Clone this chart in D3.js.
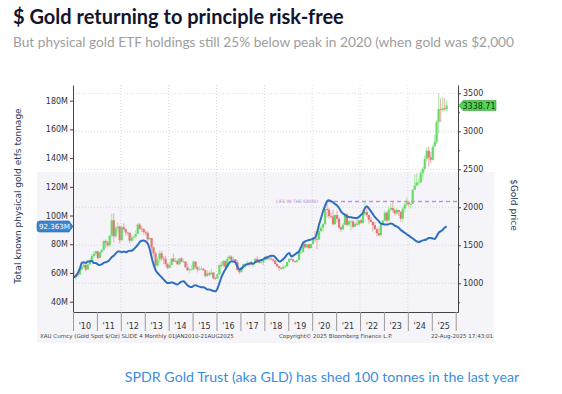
<!DOCTYPE html>
<html>
<head>
<meta charset="utf-8">
<script src="https://cdn.jsdelivr.net/npm/d3@7"></script>
<style>
  body { margin: 0; background: #fff; }
  svg text { font-family: "DejaVu Sans", sans-serif; }
  .head { font-family: Lato, "Open Sans", sans-serif !important; }
</style>
</head>
<body>
<svg id="chart" width="562" height="394"></svg>
<script>
// monthly gold candles, Jan 2010 .. Aug 2025 (open = previous close)
var firstOpen = 1097
var goldClose = [
  1081,1118,1113,1180,1213,1244,1181,1248,1307,1357,1386,1421,
  1333,1410,1439,1556,1536,1500,1628,1829,1620,1723,1746,1566,
  1738,1711,1669,1664,1561,1604,1614,1648,1773,1719,1711,1675,
  1664,1578,1595,1472,1393,1234,1312,1395,1327,1323,1253,1202,
  1240,1326,1284,1296,1250,1327,1282,1287,1210,1171,1183,1184,
  1283,1213,1183,1184,1190,1172,1095,1132,1115,1142,1065,1061,
  1118,1238,1233,1293,1215,1322,1351,1309,1316,1277,1173,1146,
  1211,1249,1249,1268,1268,1242,1269,1322,1280,1271,1275,1303,
  1345,1318,1325,1315,1299,1253,1224,1201,1192,1215,1222,1282,
  1321,1313,1292,1284,1305,1409,1413,1520,1472,1513,1464,1517,
  1589,1585,1577,1687,1730,1781,1975,1968,1886,1879,1776,1898,
  1847,1734,1708,1769,1907,1770,1814,1814,1743,1783,1774,1829,
  1797,1909,1937,1897,1837,1807,1766,1711,1661,1633,1769,1824,
  1928,1827,1969,1990,1963,1919,1965,1940,1849,1983,2036,2063,
  2040,2044,2230,2286,2327,2327,2448,2503,2635,2744,2657,2625,
  2798,2858,3124,3289,3280,3303,3290,3339
]
var goldHigh = [
  1162,1127,1127,1185,1249,1265,1212,1249,1308,1388,1424,1431,
  1424,1411,1448,1575,1577,1560,1632,1912,1921,1755,1804,1764,
  1764,1791,1724,1677,1667,1640,1628,1693,1790,1795,1755,1727,
  1694,1684,1617,1598,1487,1424,1348,1434,1424,1361,1362,1268,
  1280,1332,1392,1331,1315,1333,1345,1324,1287,1255,1206,1239,
  1307,1293,1224,1224,1232,1205,1175,1170,1157,1191,1142,1088,
  1128,1263,1283,1304,1303,1362,1375,1367,1352,1317,1305,1181,
  1220,1264,1261,1295,1275,1296,1270,1331,1357,1306,1299,1306,
  1366,1361,1356,1365,1326,1309,1265,1224,1214,1243,1237,1284,
  1326,1346,1324,1301,1306,1439,1453,1555,1557,1518,1516,1525,
  1611,1689,1704,1747,1765,1789,1984,2075,1992,1933,1966,1906,
  1959,1872,1755,1798,1913,1917,1832,1834,1834,1814,1877,1831,
  1853,1974,2070,1998,1910,1879,1814,1808,1735,1730,1786,1833,
  1959,1945,2009,2049,2079,1983,1987,1949,1947,2009,2052,2135,
  2088,2065,2236,2431,2450,2369,2483,2531,2686,2790,2801,2726,
  2817,2956,3149,3500,3435,3452,3439,3409
]
var goldLow = [
  1075,1045,1088,1116,1167,1200,1155,1176,1242,1315,1330,1361,
  1309,1330,1381,1418,1462,1478,1478,1600,1535,1600,1667,1523,
  1563,1691,1627,1627,1527,1548,1564,1592,1649,1703,1672,1637,
  1626,1555,1565,1321,1338,1180,1208,1270,1292,1251,1221,1180,
  1202,1239,1277,1268,1240,1240,1281,1273,1206,1161,1132,1170,
  1168,1192,1142,1168,1170,1162,1077,1083,1097,1137,1052,1046,
  1061,1107,1208,1209,1200,1208,1310,1301,1302,1241,1171,1123,
  1146,1180,1195,1243,1214,1236,1205,1266,1271,1260,1264,1237,
  1302,1307,1307,1302,1282,1250,1211,1160,1180,1182,1196,1221,
  1276,1310,1281,1266,1266,1309,1381,1400,1459,1459,1445,1454,
  1517,1548,1451,1568,1670,1671,1757,1863,1849,1860,1765,1775,
  1803,1717,1677,1720,1767,1750,1750,1688,1722,1746,1761,1753,
  1780,1781,1890,1872,1787,1805,1681,1709,1615,1618,1616,1765,
  1824,1804,1810,1949,1932,1893,1903,1885,1810,1811,1931,2010,
  2002,1984,2039,2229,2278,2286,2319,2364,2471,2603,2537,2583,
  2614,2833,2833,2970,3121,3248,3268,3268
]
// physical gold ETF holdings (M), same months
var etfHoldings = [
  57,58,60,63,67,67.5,67,68,68,68.5,67,67,
  66,65.5,66,67,67.5,68,69.3,71,72,73.5,75,75,
  74.5,75,74.5,75,75.5,75.5,76.5,78,79.5,81.5,82.5,82.7,
  82,80.5,77,71,66,62,60,58.5,57,55.5,54,53,
  53,53.5,53,52.5,52,53,54,54.2,53,51.5,50.5,50.2,
  51,51.5,51,50.5,50,50,49.5,48.5,48.5,48,47.5,47.2,
  49,53,57,60,62.5,65,67,68.1,68,67.5,64.5,62.5,
  63,64.5,65.5,66,66.5,67,66.5,67.5,68.1,68.5,69,69.5,
  70.5,71,71.5,72,72,71,69.5,68,68.5,69.5,71,73,
  74,71.6,72,73,74,75,78,81,82,82.5,83,83.2,
  84,84.5,88,93.7,98,103,106.5,110,110.6,110,109.2,108,
  107,105.3,103,101.5,100.6,99.5,99,98.8,98.5,98.3,98.3,99,
  100.5,102,105,106.4,105,103,101,99,97.5,96,94.4,94,
  93.7,93.7,94,94.4,94,93,92.5,91.5,90,89,88,87,
  86,85,84,83,82,81.6,82,82.7,83,83.5,84.4,84.4,
  84,83.7,85.5,88,89,90,91.5,92.363
]
var years = [2010,2011,2012,2013,2014,2015,2016,2017,2018,2019,2020,2021,2022,2023,2024,2025]
var leftTicks = [40,60,80,100,120,140,160,180]
var rightTicks = [1000,1500,2000,2500,3000,3500]
var rightMinor = [750,1250,1750,2250,2750,3250]
var gridYears = [2012,2014,2016,2018,2020,2022,2024]
var resistance = 2075
var lastEtf = "92.363M"
var lastGold = "3338.71"

var svg = d3.select("#chart")

var plot = {left: 73, right: 458, top: 85, bottom: 312}

var x = d3.scaleTime()
  .domain([new Date(2010, 0, 1), new Date(2026, 1, 5)])
  .range([plot.left, plot.right])
var yL = d3.scaleLinear().domain([32.83, 190.9]).range([plot.bottom, plot.top])
var yR = d3.scaleLinear().domain([622, 3609]).range([plot.bottom, plot.top])

var months = goldClose.map((_, i) => new Date(2010, i, 15))

// tinted backdrop of the lower half of the screenshot
svg.append("rect")
  .attr("x", 37).attr("y", 172).attr("width", 457).attr("height", 171)
  .attr("fill", "#f4f4f9")

// grid
svg.append("g").selectAll("line")
  .data(rightTicks).enter().append("line")
  .attr("x1", plot.left).attr("x2", plot.right)
  .attr("y1", d => yR(d)).attr("y2", d => yR(d))
  .attr("stroke", "#d8d8d8").attr("stroke-dasharray", "1,2")

svg.append("g").selectAll("line")
  .data(gridYears).enter().append("line")
  .attr("x1", d => x(new Date(d, 0, 1))).attr("x2", d => x(new Date(d, 0, 1)))
  .attr("y1", plot.top).attr("y2", plot.bottom)
  .attr("stroke", "#d8d8d8").attr("stroke-dasharray", "1,2")

// candles
var candles = svg.append("g").selectAll("g")
  .data(goldClose).enter().append("g")

candles.each(function(c, i) {
  var o = i === 0 ? firstOpen : goldClose[i - 1]
  var up = c >= o
  var g = d3.select(this)
  var cx = x(months[i])
  g.append("line")
    .attr("x1", cx).attr("x2", cx)
    .attr("y1", yR(goldHigh[i])).attr("y2", yR(goldLow[i]))
    .attr("stroke", up ? "#b4ecb4" : "#f1b9b9").attr("stroke-width", 1.3)
  g.append("rect")
    .attr("x", cx - 1.1).attr("width", 2.2)
    .attr("y", yR(Math.max(o, c)))
    .attr("height", Math.max(0.8, Math.abs(yR(o) - yR(c))))
    .attr("fill", up ? "#66dc66" : "#e07878")
})

// resistance line + note
svg.append("line")
  .attr("x1", x(new Date(2020, 7, 15))).attr("x2", plot.right)
  .attr("y1", yR(resistance)).attr("y2", yR(resistance))
  .attr("stroke", "#c58ee6").attr("stroke-width", 1.5)
  .attr("stroke-dasharray", "4,3")

svg.append("text")
  .attr("x", 318).attr("y", yR(resistance) + 1.8)
  .attr("text-anchor", "end")
  .attr("font-size", 4.5)
  .attr("fill", "#b58ad6")
  .text("LIFE IN THE GRIND")

// ETF holdings line
var line = d3.line()
  .x((d, i) => x(months[i]))
  .y(d => yL(d))
  .curve(d3.curveMonotoneX)

svg.append("path")
  .datum(etfHoldings)
  .attr("d", line)
  .attr("fill", "none")
  .attr("stroke", "#2e6fc0")
  .attr("stroke-width", 2)

// axes
var axisColor = "#444"

svg.append("g")
  .attr("transform", "translate(" + plot.left + ",0)")
  .call(d3.axisLeft(yL).tickValues(leftTicks).tickFormat(d => d + "M").tickSize(3).tickSizeOuter(0).tickPadding(2))
svg.append("g")
  .attr("transform", "translate(" + plot.right + ",0)")
  .call(d3.axisRight(yR).tickValues(rightTicks).tickFormat(d => d).tickSize(3).tickSizeOuter(0).tickPadding(2))
svg.append("g")
  .attr("transform", "translate(" + plot.right + ",0)")
  .call(d3.axisRight(yR).tickValues(rightMinor).tickFormat("").tickSize(2).tickSizeOuter(0))
  .select(".domain").remove()

var bottomAxis = svg.append("g")
  .attr("transform", "translate(0," + plot.bottom + ")")
  .call(d3.axisBottom(x)
    .tickValues(years.concat([2026]).map(d => new Date(d, 0, 1)))
    .tickFormat("").tickSize(19).tickSizeOuter(0))

svg.selectAll(".domain").attr("stroke", axisColor)
svg.selectAll(".tick line").attr("stroke", axisColor)
bottomAxis.selectAll(".tick line").attr("stroke", "#9a9a9a")
svg.selectAll(".tick text").attr("font-size", 8).attr("fill", "#333")
  .attr("font-family", "DejaVu Sans, sans-serif")

svg.append("g").selectAll("text")
  .data(years).enter().append("text")
  .attr("x", d => x(new Date(d, 6, 1)))
  .attr("y", 329)
  .attr("text-anchor", "middle")
  .attr("font-size", 8).attr("fill", "#333")
  .text(d => "'" + String(d).slice(2))

// last value tags
var tagL = yL(92.363)
svg.append("path")
  .attr("d", "M40," + (tagL - 5.5) + "H69L73," + tagL + "L69," + (tagL + 5.5) + "H40Q37," + (tagL + 5.5) + " 37," + (tagL + 2.5) + "V" + (tagL - 2.5) + "Q37," + (tagL - 5.5) + " 40," + (tagL - 5.5) + "Z")
  .attr("fill", "#3b86cf").attr("stroke", "#1f5fa5").attr("stroke-width", 0.6)
svg.append("text")
  .attr("x", 54.5).attr("y", tagL + 2.6)
  .attr("text-anchor", "middle").attr("font-size", 7).attr("fill", "#fff")
  .attr("textLength", 31).attr("lengthAdjust", "spacingAndGlyphs")
  .text(lastEtf)

var tagR = yR(3338.71)
svg.append("path")
  .attr("d", "M459," + tagR + "L463," + (tagR - 5) + "H496V" + (tagR + 5) + "H463Z")
  .attr("fill", "#53d653").attr("stroke", "#2a9a2a").attr("stroke-width", 0.6)
svg.append("text")
  .attr("x", 479).attr("y", tagR + 3)
  .attr("text-anchor", "middle").attr("font-size", 8).attr("fill", "#113311")
  .text(lastGold)

// axis titles
svg.append("text")
  .attr("transform", "translate(21,196) rotate(-90)")
  .attr("text-anchor", "middle")
  .attr("font-size", 9).attr("fill", "#2b3b5c")
  .text("Total known physical gold etfs tonnage")
svg.append("text")
  .attr("transform", "translate(511,205) rotate(90)")
  .attr("text-anchor", "middle")
  .attr("font-size", 9).attr("fill", "#2b3b5c")
  .text("$Gold price")

// footer of the bloomberg screenshot
svg.append("text").attr("x", 40).attr("y", 338)
  .attr("font-size", 5.5).attr("fill", "#444")
  .text("XAU Curncy (Gold Spot  $/Oz) SLIDE 4  Monthly 01JAN2010-21AUG2025")
svg.append("text").attr("x", 279).attr("y", 338)
  .attr("font-size", 5.5).attr("fill", "#444")
  .text("Copyright\u00a9 2025 Bloomberg Finance L.P.")
svg.append("text").attr("x", 493).attr("y", 338)
  .attr("text-anchor", "end")
  .attr("font-size", 5.5).attr("fill", "#444")
  .text("22-Aug-2025 17:43:01")

// headings
svg.append("text").attr("class", "head")
  .attr("x", 13).attr("y", 24)
  .attr("font-size", 20).attr("font-weight", "bold").attr("fill", "#14142b")
  .text("$ Gold returning to principle risk-free")
svg.append("text").attr("class", "head")
  .attr("x", 13).attr("y", 47)
  .attr("font-size", 13.7).attr("fill", "#9e9e9e")
  .text("But physical gold ETF holdings still 25% below peak in 2020 (when gold was $2,000")
svg.append("text").attr("class", "head")
  .attr("x", 322).attr("y", 382)
  .attr("text-anchor", "middle")
  .attr("font-size", 14.2).attr("fill", "#3b8de0")
  .text("SPDR Gold Trust (aka GLD) has shed 100 tonnes in the last year")
</script>
</body>
</html>
